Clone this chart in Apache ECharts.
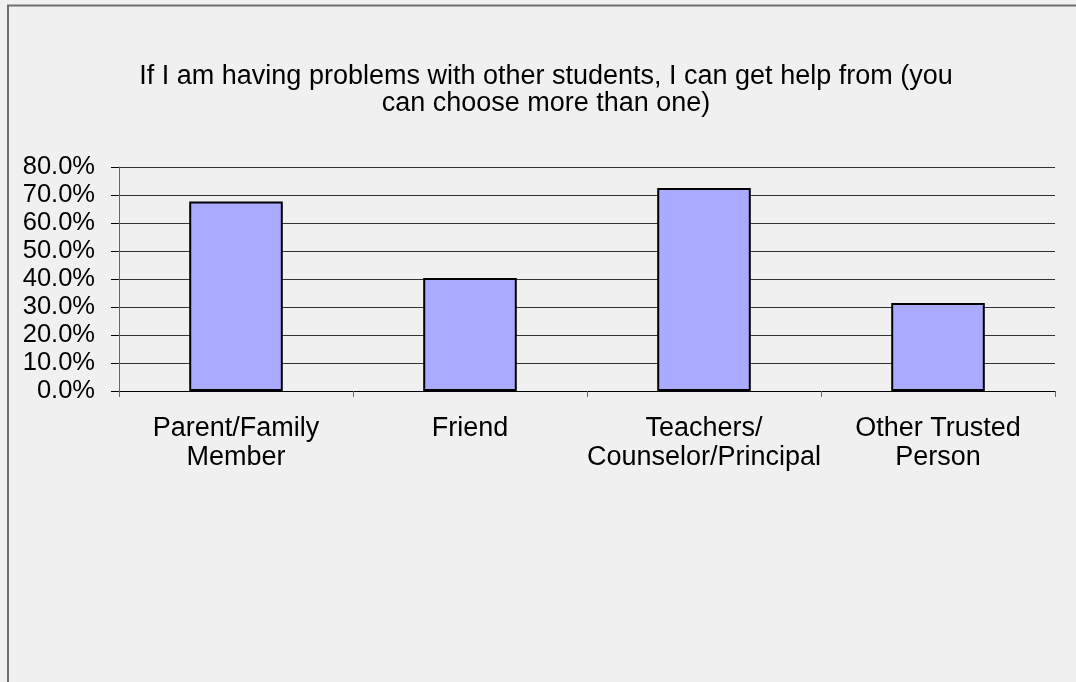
<!DOCTYPE html>
<html>
<head>
<meta charset="utf-8">
<script src="https://cdn.jsdelivr.net/npm/echarts@6/dist/echarts.min.js"></script>
<style>
html,body{margin:0;padding:0;background:#f0f0f0;}
#c{width:1076px;height:682px;}
</style>
</head>
<body>
<div id="c"></div>
<script>
const titleText = "If I am having problems with other students, I can get help from (you\ncan choose more than one)";
const categories = ["Parent/Family\nMember", "Friend", "Teachers/\nCounselor/Principal", "Other Trusted\nPerson"];
const values = [0.677, 0.404, 0.725, 0.314];
const yTicks = [0, 0.1, 0.2, 0.3, 0.4, 0.5, 0.6, 0.7, 0.8];

const chart = echarts.init(document.getElementById('c'), null, {renderer: 'canvas'});
const font = '"Liberation Sans", Arial, sans-serif';
chart.setOption({
  backgroundColor: '#f0f0f0',
  animation: false,
  title: {
    text: titleText,
    left: 541,
    top: 58,
    textAlign: 'center',
    textStyle: {fontFamily: font, fontSize: 27, fontWeight: 'normal', color: '#000', lineHeight: 27}
  },
  graphic: [{
    type: 'polyline',
    shape: {points: [[8, 682], [8, 5.5], [1076, 5.5]]},
    style: {stroke: '#6e6e6e', lineWidth: 2, fill: null}
  }],
  grid: {left: 119, right: 21, top: 167, bottom: 291},
  xAxis: {
    type: 'category',
    data: categories,
    axisLine: {show: true, lineStyle: {color: '#000', width: 1}},
    axisTick: {show: true, length: 6, lineStyle: {color: '#666'}},
    axisLabel: {fontFamily: font, fontSize: 27, color: '#000', lineHeight: 29, margin: 23, interval: 0}
  },
  yAxis: {
    type: 'value',
    min: yTicks[0], max: yTicks[yTicks.length - 1], interval: 0.1,
    axisLine: {show: true, lineStyle: {color: '#666', width: 1}},
    axisTick: {show: true, length: 8, lineStyle: {color: '#000'}},
    splitLine: {show: true, lineStyle: {color: '#333', width: 1}},
    axisLabel: {
      fontFamily: font, fontSize: 25.5, color: '#000', margin: 24,
      formatter: v => (v * 100).toFixed(1) + '%'
    }
  },
  series: [{
    type: 'bar',
    data: values,
    barWidth: '40%',
    itemStyle: {color: '#aaaaff', borderColor: '#000', borderWidth: 2}
  }]
});
</script>
</body>
</html>
